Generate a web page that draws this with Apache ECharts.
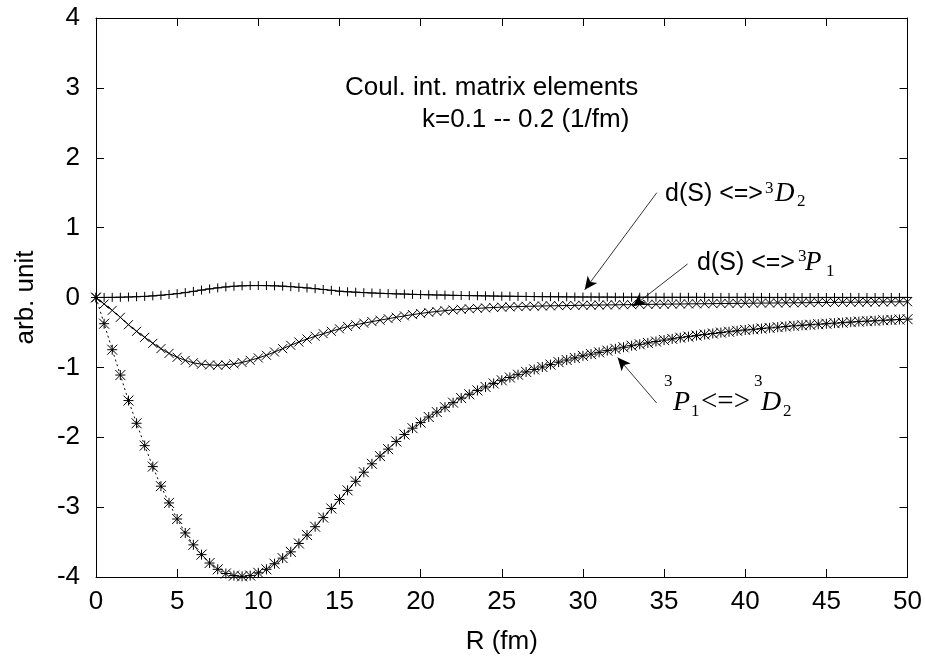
<!DOCTYPE html>
<html>
<head>
<meta charset="utf-8">
<script src="https://cdn.jsdelivr.net/npm/echarts@6/dist/echarts.min.js"></script>
<style>
  html, body { margin: 0; padding: 0; background: #fff; }
  #chart { width: 925px; height: 661px; }
</style>
</head>
<body>
<div id="chart"></div>
<script>
// Radial grid (fm)
const R = [
  0, 0.5, 1, 1.5, 2, 2.5, 3, 3.5, 4, 4.5,
  5, 5.5, 6, 6.5, 7, 7.5, 8, 8.5, 9, 9.5,
  10, 10.5, 11, 11.5, 12, 12.5, 13, 13.5, 14, 14.5,
  15, 15.5, 16, 16.5, 17, 17.5, 18, 18.5, 19, 19.5,
  20, 20.5, 21, 21.5, 22, 22.5, 23, 23.5, 24, 24.5,
  25, 25.5, 26, 26.5, 27, 27.5, 28, 28.5, 29, 29.5,
  30, 30.5, 31, 31.5, 32, 32.5, 33, 33.5, 34, 34.5,
  35, 35.5, 36, 36.5, 37, 37.5, 38, 38.5, 39, 39.5,
  40, 40.5, 41, 41.5, 42, 42.5, 43, 43.5, 44, 44.5,
  45, 45.5, 46, 46.5, 47, 47.5, 48, 48.5, 49, 49.5,
  50
];

// d(S) <=> 3D2
const dS_D2 = [
  0, 0.001, 0.002, 0.004, 0.007, 0.011, 0.016, 0.023, 0.032, 0.043,
  0.055, 0.07, 0.088, 0.106, 0.123, 0.138, 0.151, 0.161, 0.167, 0.17,
  0.171, 0.17, 0.167, 0.162, 0.155, 0.146, 0.137, 0.126, 0.115, 0.103,
  0.09, 0.082, 0.076, 0.07, 0.065, 0.06, 0.056, 0.052, 0.049, 0.045,
  0.042, 0.039, 0.036, 0.034, 0.031, 0.029, 0.027, 0.025, 0.023, 0.021,
  0.019, 0.018, 0.016, 0.015, 0.013, 0.012, 0.011, 0.01, 0.009, 0.008,
  0.007, 0.007, 0.006, 0.006, 0.005, 0.005, 0.005, 0.004, 0.004, 0.004,
  0.003, 0.003, 0.003, 0.003, 0.003, 0.002, 0.002, 0.002, 0.002, 0.002,
  0.002, 0.002, 0.002, 0.001, 0.001, 0.001, 0.001, 0.001, 0.001, 0.001,
  0.001, 0.001, 0.001, 0.001, 0.001, 0.001, 0.001, 0.001, 0.001, 0.001,
  0.001
];

// d(S) <=> 3P1
const dS_P1 = [
  0, -0.093, -0.184, -0.284, -0.389, -0.484, -0.57, -0.656, -0.732, -0.80,
  -0.855, -0.90, -0.935, -0.955, -0.965, -0.97, -0.965, -0.95, -0.93, -0.90,
  -0.865, -0.827, -0.78, -0.732, -0.684, -0.637, -0.594, -0.555, -0.518, -0.484,
  -0.448, -0.415, -0.39, -0.367, -0.345, -0.325, -0.303, -0.283, -0.263, -0.245,
  -0.228, -0.213, -0.20, -0.188, -0.178, -0.169, -0.161, -0.155, -0.149, -0.143,
  -0.138, -0.134, -0.13, -0.127, -0.124, -0.121, -0.119, -0.117, -0.115, -0.113,
  -0.111, -0.11, -0.108, -0.106, -0.105, -0.103, -0.102, -0.1, -0.099, -0.097,
  -0.096, -0.094, -0.093, -0.091, -0.09, -0.089, -0.088, -0.086, -0.085, -0.084,
  -0.083, -0.081, -0.08, -0.079, -0.078, -0.077, -0.076, -0.075, -0.074, -0.072,
  -0.071, -0.07, -0.069, -0.068, -0.067, -0.066, -0.065, -0.064, -0.063, -0.062,
  -0.061
];

// 3P1 <=> 3D2
const P1_D2 = [
  0, -0.375, -0.747, -1.11, -1.475, -1.80, -2.12, -2.42, -2.70, -2.94,
  -3.17, -3.37, -3.54, -3.68, -3.80, -3.89, -3.95, -3.98, -3.99, -3.98,
  -3.94, -3.89, -3.81, -3.73, -3.64, -3.52, -3.40, -3.28, -3.15, -3.02,
  -2.89, -2.76, -2.63, -2.50, -2.38, -2.27, -2.17, -2.06, -1.96, -1.87,
  -1.79, -1.71, -1.64, -1.57, -1.505, -1.44, -1.385, -1.33, -1.28, -1.23,
  -1.185, -1.145, -1.105, -1.065, -1.03, -0.995, -0.96, -0.925, -0.895, -0.865,
  -0.835, -0.81, -0.785, -0.76, -0.735, -0.712, -0.69, -0.67, -0.65, -0.63,
  -0.61, -0.592, -0.575, -0.56, -0.545, -0.53, -0.515, -0.502, -0.49, -0.477,
  -0.465, -0.455, -0.445, -0.435, -0.425, -0.415, -0.405, -0.397, -0.39, -0.382,
  -0.375, -0.367, -0.36, -0.352, -0.345, -0.339, -0.333, -0.326, -0.32, -0.315,
  -0.31
];

// Arrow start/end points in data units [R, value]
const arrowD2 = [[34.55, 1.50], [30.11, 0.11]];
const arrowP1 = [[36.45, 0.48], [33.07, -0.13]];
const arrowP1D2 = [[34.54, -1.51], [32.14, -0.86]];

const SANS = '"Liberation Sans", Arial, Helvetica, sans-serif';
const SERIF = '"Liberation Serif", "Times New Roman", serif';
const FS = 26;

const plusSym = 'path://M0,5L10,5M5,0L5,10';
const crossSym = 'path://M0,0L10,10M10,0L0,10';
const starSym = 'path://M0,5L10,5M5,0L5,10M0,0L10,10M10,0L0,10';

const pts = ys => R.map((r, i) => [r, ys[i]]);

function markerItem() {
  return { color: 'none', borderColor: '#000', borderWidth: 1 };
}

const axisCommon = {
  axisLine: { show: true, onZero: false, lineStyle: { color: '#000', width: 1 } },
  axisTick: { show: true, inside: true, length: 8, lineStyle: { color: '#000', width: 1 } },
  splitLine: { show: false }
};

function txt(x, y, text, font, size, italic) {
  return {
    type: 'text', x: x, y: y, silent: true,
    style: {
      text: text, fill: '#000',
      font: (italic ? 'italic ' : '') + size + 'px ' + font,
      textAlign: 'left', textVerticalAlign: 'middle'
    }
  };
}

const chart = echarts.init(document.getElementById('chart'), null, { renderer: 'canvas' });

chart.setOption({
  animation: false,
  backgroundColor: '#fff',
  grid: { left: 96, right: 17, top: 18, bottom: 84 },
  xAxis: [
    Object.assign({}, axisCommon, {
      type: 'value', min: 0, max: 50, interval: 5, position: 'bottom',
      name: 'R (fm)', nameLocation: 'middle', nameGap: 52,
      nameTextStyle: { fontFamily: SANS, fontSize: FS, color: '#000' },
      axisLabel: { margin: 12, fontFamily: SANS, fontSize: FS, color: '#000' }
    }),
    Object.assign({}, axisCommon, {
      type: 'value', min: 0, max: 50, interval: 5, position: 'top',
      axisLabel: { show: false }
    })
  ],
  yAxis: [
    Object.assign({}, axisCommon, {
      type: 'value', min: -4, max: 4, interval: 1, position: 'left',
      name: 'arb. unit', nameLocation: 'middle', nameGap: 57, nameRotate: 90,
      nameTextStyle: { fontFamily: SANS, fontSize: FS, color: '#000' },
      axisLabel: { margin: 16, fontFamily: SANS, fontSize: FS, color: '#000' }
    }),
    Object.assign({}, axisCommon, {
      type: 'value', min: -4, max: 4, interval: 1, position: 'right',
      axisLabel: { show: false }
    })
  ],
  series: [
    {
      name: '3P1 <=> 3D2', type: 'line', data: pts(P1_D2),
      symbol: starSym, symbolSize: 10, showAllSymbol: true,
      itemStyle: markerItem(),
      lineStyle: { color: '#000', width: 1, type: [2, 3] }
    },
    {
      name: 'd(S) <=> 3P1', type: 'line', data: pts(dS_P1),
      symbol: crossSym, symbolSize: 9, showAllSymbol: true,
      itemStyle: markerItem(),
      lineStyle: { color: '#000', width: 1 }
    },
    {
      name: 'd(S) <=> 3D2', type: 'line', data: pts(dS_D2),
      symbol: plusSym, symbolSize: 9, showAllSymbol: true,
      itemStyle: markerItem(),
      lineStyle: { color: '#000', width: 1 },
      markLine: {
        silent: true, symbol: ['none', 'arrow'], symbolSize: [9, 13],
        label: { show: false },
        lineStyle: { color: '#000', width: 0.8, type: 'solid' },
        itemStyle: { color: '#000' },
        data: [arrowD2, arrowP1, arrowP1D2].map(a => [{ coord: a[0] }, { coord: a[1] }])
      }
    }
  ],
  graphic: [
    txt(345, 88, 'Coul. int. matrix elements', SANS, FS),
    txt(422, 120, 'k=0.1 -- 0.2 (1/fm)', SANS, FS),

    txt(665, 194, 'd(S) <=>', SANS, 25),
    txt(765, 189, '3', SERIF, 17),
    txt(775, 194, 'D', SERIF, 27, true),
    txt(797, 202, '2', SERIF, 17),

    txt(697, 263, 'd(S) <=>', SANS, 25),
    txt(798, 257, '3', SERIF, 17),
    txt(805, 263, 'P', SERIF, 27, true),
    txt(826, 272, '1', SERIF, 17),

    txt(664, 382, '3', SERIF, 17),
    txt(673, 403, 'P', SERIF, 28, true),
    txt(691, 412, '1', SERIF, 17),
    txt(701, 402, '<=>', SERIF, 29),
    txt(754, 382, '3', SERIF, 17),
    txt(761, 403, 'D', SERIF, 28, true),
    txt(783, 412, '2', SERIF, 17)
  ]
});
</script>
</body>
</html>
